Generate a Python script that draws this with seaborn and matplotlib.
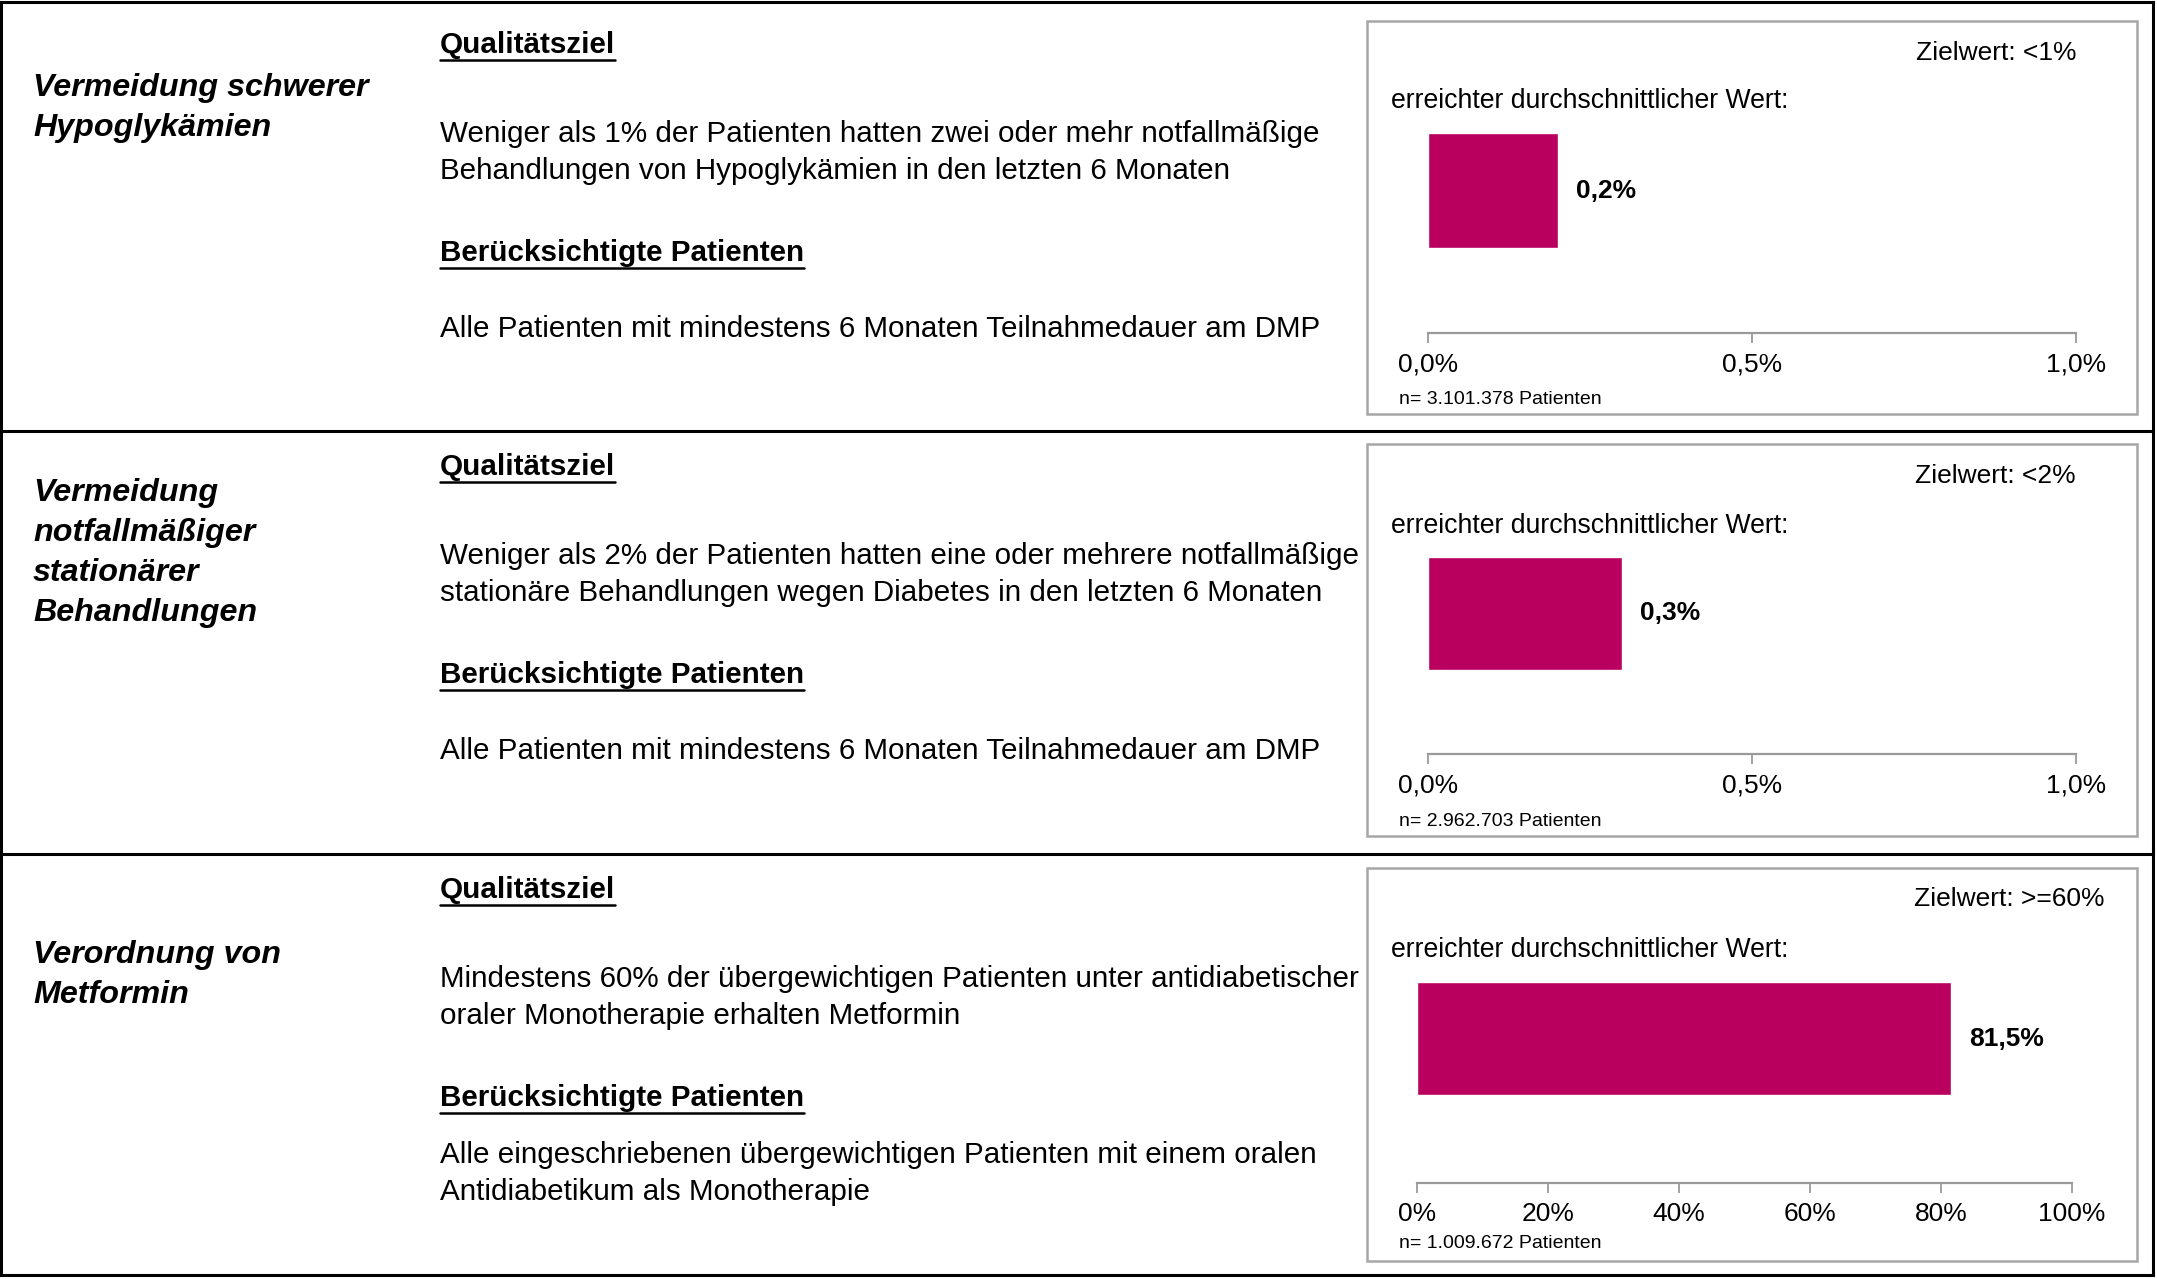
import matplotlib
matplotlib.use("Agg")
import matplotlib.pyplot as plt
from matplotlib.lines import Line2D
from matplotlib.patches import Rectangle
from matplotlib.transforms import Bbox
import pandas as pd
import seaborn as sns

# ---- content -------------------------------------------------------------
titles = [
    ["Vermeidung schwerer", "Hypoglykämien"],
    ["Vermeidung", "notfallmäßiger", "stationärer", "Behandlungen"],
    ["Verordnung von", "Metformin"],
]
goal_texts = [
    ["Weniger als 1% der Patienten hatten zwei oder mehr notfallmäßige",
     "Behandlungen von Hypoglykämien in den letzten 6 Monaten"],
    ["Weniger als 2% der Patienten hatten eine oder mehrere notfallmäßige",
     "stationäre Behandlungen wegen Diabetes in den letzten 6 Monaten"],
    ["Mindestens 60% der übergewichtigen Patienten unter antidiabetischer",
     "oraler Monotherapie erhalten Metformin"],
]
patient_texts = [
    ["Alle Patienten mit mindestens 6 Monaten Teilnahmedauer am DMP"],
    ["Alle Patienten mit mindestens 6 Monaten Teilnahmedauer am DMP"],
    ["Alle eingeschriebenen übergewichtigen Patienten mit einem oralen",
     "Antidiabetikum als Monotherapie"],
]
target_labels = ["Zielwert: <1%", "Zielwert: <2%", "Zielwert: >=60%"]
values = [0.2, 0.3, 81.5]                      # erreichter Wert in %
axis_max = [1.0, 1.0, 100.0]
tick_values = [[0.0, 0.5, 1.0], [0.0, 0.5, 1.0], [0, 20, 40, 60, 80, 100]]
tick_labels = [
    ["0,0%", "0,5%", "1,0%"],
    ["0,0%", "0,5%", "1,0%"],
    ["0%", "20%", "40%", "60%", "80%", "100%"],
]
n_labels = [
    "n= 3.101.378 Patienten",
    "n= 2.962.703 Patienten",
    "n= 1.009.672 Patienten",
]

# ---- styling / layout (pixel coordinates, origin top-left) ----------------
W, H, DPI = 2157, 1279, 100
MAGENTA = "#BA005F"
GREY = "#A6A6A6"
AXIS_GREY = "#9A9A9A"

row_lines = [2, 431, 854, 1275]
title_y = [88, 493, 955]
title_step = 40
head1_y = [45, 467, 890]
goal_y = [134, 556, 979]
head2_y = [253, 675, 1098]
pat_y = [329, 751, 1155]
line_step = 37
box_left, box_right = 1367, 2137
box_top = [21, 444, 868]
box_bottom = [414, 836, 1261]
target_y = [53, 476, 899]
target_x = [2076, 2076, 2105]
reached_y = [101, 526, 950]
axis_x0 = [1428, 1428, 1417]
axis_x1 = [2076, 2076, 2072]
bar_top = [133, 557, 982]
bar_bottom = [248, 670, 1095]
axis_y = [333, 754, 1183]
n_y = [400, 821, 1244]

sns.set_theme(style="ticks")
plt.rcParams["font.family"] = ["Liberation Sans", "DejaVu Sans"]
plt.rcParams["text.color"] = "black"
plt.rcParams["xtick.color"] = "black"
plt.rcParams["xtick.labelcolor"] = "black"

fig = plt.figure(figsize=(W / DPI, H / DPI), dpi=DPI)
fig.patch.set_facecolor("white")


def fx(px):
    return px / W


def fy(py):
    return 1 - py / H


def fig_line(xs, ys, lw, color):
    fig.add_artist(Line2D([fx(x) for x in xs], [fy(y) for y in ys],
                          lw=lw, color=color, transform=fig.transFigure,
                          solid_capstyle="projecting"))


# table frame
for y in row_lines:
    fig_line([1, W - 4], [y, y], 2.2, "black")
fig_line([1, 1], [row_lines[0], row_lines[-1]], 2.2, "black")
fig_line([W - 4, W - 4], [row_lines[0], row_lines[-1]], 2.2, "black")

BODY = 21.3
headings = []
for i in range(3):
    # indicator title
    for k, line in enumerate(titles[i]):
        fig.text(fx(33), fy(title_y[i] + k * title_step), line, fontsize=23.2,
                 fontweight="bold", fontstyle="italic", va="center", ha="left")
    headings.append(fig.text(fx(440), fy(head1_y[i]), "Qualitätsziel",
                             fontsize=BODY, fontweight="bold", va="center"))
    for k, line in enumerate(goal_texts[i]):
        fig.text(fx(440), fy(goal_y[i] + k * line_step), line, fontsize=BODY,
                 va="center", ha="left")
    headings.append(fig.text(fx(440), fy(head2_y[i]), "Berücksichtigte Patienten",
                             fontsize=BODY, fontweight="bold", va="center"))
    for k, line in enumerate(patient_texts[i]):
        fig.text(fx(440), fy(pat_y[i] + k * line_step), line, fontsize=BODY,
                 va="center", ha="left")

    # chart frame
    fig.add_artist(Rectangle((fx(box_left), fy(box_bottom[i])),
                             fx(box_right) - fx(box_left),
                             fy(box_top[i]) - fy(box_bottom[i]),
                             transform=fig.transFigure, fill=False,
                             edgecolor=GREY, lw=1.8))
    fig.text(fx(target_x[i]), fy(target_y[i]), target_labels[i], fontsize=19,
             ha="right", va="center")
    fig.text(fx(1391), fy(reached_y[i]), "erreichter durchschnittlicher Wert:",
             fontsize=19.2, ha="left", va="center")
    n_txt = fig.text(fx(1399), fy(n_y[i]), n_labels[i], fontsize=14,
                     ha="left", va="center")
    n_txt.set_clip_box(Bbox([[box_left, H - box_bottom[i] + 9],
                             [box_right, H - box_top[i]]]))

    # bar chart
    ax = fig.add_axes([fx(axis_x0[i]), fy(axis_y[i]),
                       fx(axis_x1[i]) - fx(axis_x0[i]),
                       fy(bar_top[i]) - fy(axis_y[i])])
    df = pd.DataFrame({"kennzahl": [titles[i][0]], "wert": [values[i]]})
    sns.barplot(data=df, x="wert", y="kennzahl", orient="h", color=MAGENTA,
                saturation=1, width=0.8, errorbar=None, ax=ax)
    half = (bar_bottom[i] - bar_top[i]) / 2
    centre = (bar_bottom[i] + bar_top[i]) / 2
    ax.set_ylim(0.4 * (axis_y[i] - centre) / half, -0.4)
    ax.set_xlim(0, axis_max[i])
    ax.set_facecolor("none")
    for side in ("left", "right", "top"):
        ax.spines[side].set_visible(False)
    ax.spines["bottom"].set_color(AXIS_GREY)
    ax.spines["bottom"].set_linewidth(1.6)
    ax.set_yticks([])
    ax.set_xticks(tick_values[i], tick_labels[i])
    ax.tick_params(axis="x", bottom=True, direction="out", length=7,
                   width=1.3, color=AXIS_GREY, labelsize=19, pad=7,
                   labelcolor="black")
    ax.set_xlabel("")
    ax.set_ylabel("")
    label = f"{values[i]:.1f}".replace(".", ",") + "%"
    ax.annotate(label, xy=(values[i], 0), xytext=(13, 0),
                textcoords="offset points", va="center", ha="left",
                fontsize=19, fontweight="bold", color="black")

# underline the bold headings
fig.canvas.draw()
renderer = fig.canvas.get_renderer()
for t in headings:
    bb = t.get_window_extent(renderer)
    y = (bb.y0 - 1) / H
    fig.add_artist(Line2D([bb.x0 / W, bb.x1 / W], [y, y], lw=1.8,
                          color="black", transform=fig.transFigure))

fig.savefig("out.png", dpi=DPI)
